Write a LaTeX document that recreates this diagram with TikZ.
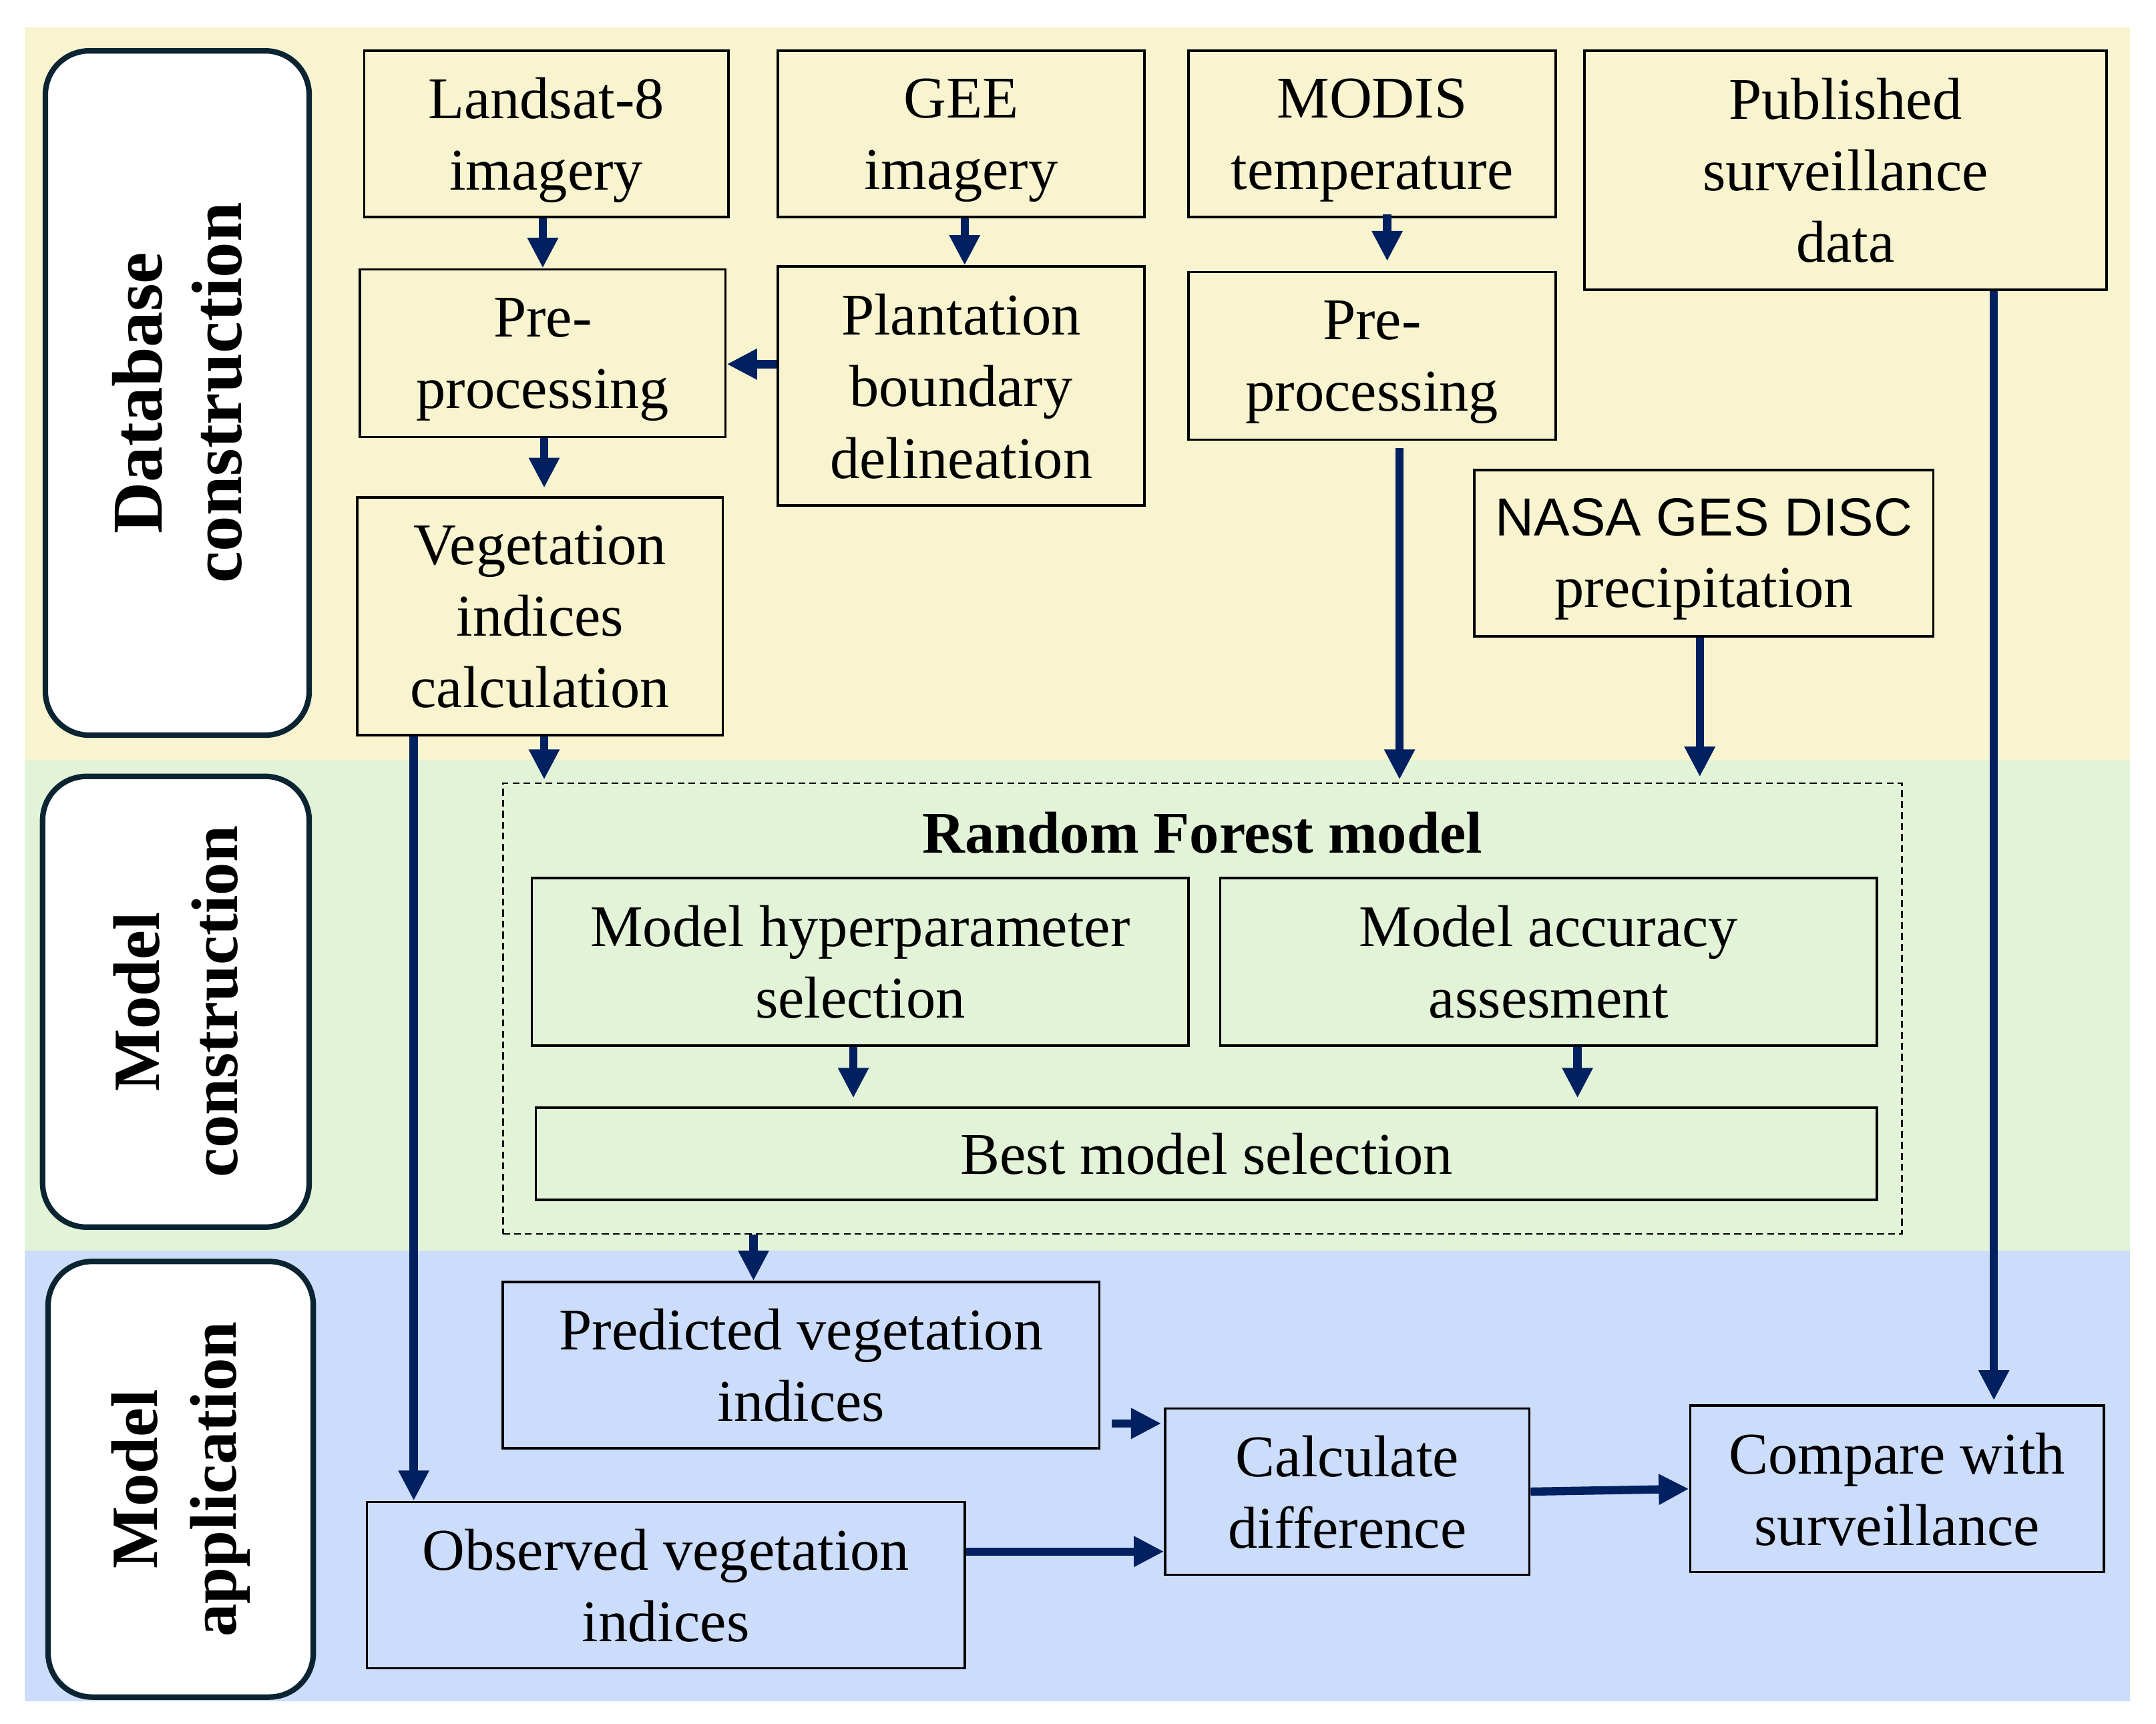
\documentclass[tikz,border=0pt]{standalone}
\usepackage{fontspec}
\setmainfont{Liberation Serif}
\newfontfamily\nasafont{Liberation Sans}
\usetikzlibrary{arrows.meta,calc}
\definecolor{bgyellow}{RGB}{248,244,208}
\definecolor{bggreen}{RGB}{226,243,216}
\definecolor{bgblue}{RGB}{204,220,251}
\definecolor{navy}{RGB}{0,32,96}
\definecolor{labline}{RGB}{10,36,50}
\begin{document}
\begin{tikzpicture}[x=1pt,y=-1pt,
  box/.style={draw=black,line width=1.8pt,inner sep=0pt,align=center,
    text depth=0pt,font=\fontsize{43}{52}\selectfont},
  lab/.style={draw=labline,fill=white,line width=4pt,rounded corners=32pt,
    inner sep=0pt,align=center,rotate=90},
  flow/.style={draw=navy,line width=6pt,-{Triangle[length=22pt,width=21pt]}},
]
\useasboundingbox (0,0) rectangle (1569,1254.6);
% backgrounds
\fill[bgyellow] (18,20) rectangle (1550,553);
\fill[bggreen] (18,553) rectangle (1550,910);
\fill[bgblue] (18,910) rectangle (1550,1238);
% side labels
\node[lab,minimum width=498pt,minimum height=192pt,font=\fontsize{52}{58}\selectfont\bfseries] (labdb) at (129,286) {Database\\construction};
\node[lab,minimum width=328pt,minimum height=194pt,font=\fontsize{48}{57}\selectfont\bfseries] (labmc) at (128,729) {Model\\construction};
\node[lab,minimum width=317pt,minimum height=193pt,font=\fontsize{48}{57}\selectfont\bfseries] (labma) at (131.5,1076.5) {Model\\application};
% database construction boxes
\node[box,minimum width=265pt,minimum height=121pt] (land) at (397.5,97.5) {Landsat-8\\imagery};
\node[box,minimum width=267pt,minimum height=121pt] (gee) at (699.5,97.5) {GEE\\imagery};
\node[box,minimum width=267pt,minimum height=121pt] (modis) at (998.5,97.5) {MODIS\\temperature};
\node[box,minimum width=380pt,minimum height=174pt] (pub) at (1343,124) {Published\\surveillance\\data};
\node[box,minimum width=266pt,minimum height=122pt] (pre1) at (395,257) {Pre-\\processing};
\node[box,minimum width=267pt,minimum height=174pt] (plant) at (699.5,281) {Plantation\\boundary\\delineation};
\node[box,minimum width=267pt,minimum height=122pt] (pre2) at (998.5,259) {Pre-\\processing};
\node[box,minimum width=266pt,minimum height=173pt] (veg) at (393,448.5) {Vegetation\\indices\\calculation};
\node[box,minimum width=334pt,minimum height=121pt] (nasa) at (1240,402.5) {{\nasafont\fontsize{39}{52}\selectfont NASA GES DISC}\\precipitation};
% model construction
\node[box,dashed,line width=1.3pt,dash pattern=on 5pt off 3pt,minimum width=1018pt,minimum height=328pt] (rf) at (875,734) {};
\node[font=\fontsize{43}{52}\selectfont\bfseries,inner sep=0pt] (rft) at (875,606) {Random Forest model};
\node[box,minimum width=478pt,minimum height=122pt] (hyp) at (626,700) {Model hyperparameter\\selection};
\node[box,minimum width=478pt,minimum height=122pt] (acc) at (1127,700) {Model accuracy\\assesment};
\node[box,minimum width=976pt,minimum height=67pt] (best) at (878,839.5) {Best model selection};
% model application
\node[box,minimum width=434pt,minimum height=121pt] (pred) at (583,993.5) {Predicted vegetation\\indices};
\node[box,minimum width=435pt,minimum height=121pt] (obs) at (484.5,1153.5) {Observed vegetation\\indices};
\node[box,minimum width=265pt,minimum height=121pt] (calc) at (980.5,1085.5) {Calculate\\difference};
\node[box,minimum width=301pt,minimum height=121pt] (comp) at (1380.5,1083.5) {Compare with\\surveillance};
% connectors
\draw[flow] (pre1.north |- land.south) -- (pre1.north);
\draw[flow] (gee.south) ++(2.5,0) coordinate (g1) (g1) -- (g1 |- plant.north);
\draw[flow] ($(plant.west)+(0,-16)$) coordinate (p1) (p1) -- (pre1.east |- p1);
\draw[flow,shorten >=6pt] ($(pre1.south)+(1,0)$) coordinate (p2) (p2) -- (p2 |- veg.north);
\draw[flow,shorten >=7pt,shorten <=-3pt] ($(modis.south)+(11,0)$) coordinate (m1) (m1) -- (m1 |- pre2.north);
\draw[flow,shorten >=2pt] ($(veg.south)+(3,0)$) coordinate (v1) (v1) -- (v1 |- rf.north);
\draw[flow,shorten <=5pt,shorten >=2pt] ($(pre2.south)+(20,0)$) coordinate (q1) (q1) -- (q1 |- rf.north);
\draw[flow,shorten >=4pt] ($(nasa.south)+(-3,0)$) coordinate (n1) (n1) -- (n1 |- rf.north);
\draw[flow,shorten >=3pt] ($(pub.south)+(108,0)$) coordinate (s1) (s1) -- (s1 |- comp.north);
\draw[flow] ($(veg.south west)+(42,0)$) coordinate (v2) (v2) -- (v2 |- obs.north);
\draw[flow,shorten >=6pt] ($(hyp.south)+(-5,0)$) coordinate (h1) (h1) -- (h1 |- best.north);
\draw[flow,shorten >=6pt] ($(acc.south)+(21,0)$) coordinate (a1) (a1) -- (a1 |- best.north);
\draw[flow] ($(rf.south west)+(183,0)$) coordinate (r1) (r1) -- (r1 |- pred.north);
\draw[flow,shorten >=2pt] ($(pred.south east)+(8,-19)$) coordinate (d1) (d1) -- (calc.west |- d1);
\draw[flow] ($(obs.north east)+(0,37)$) coordinate (o1) (o1) -- (calc.west |- o1);
\draw[flow] (calc.east) -- (comp.west);
\end{tikzpicture}
\end{document}
